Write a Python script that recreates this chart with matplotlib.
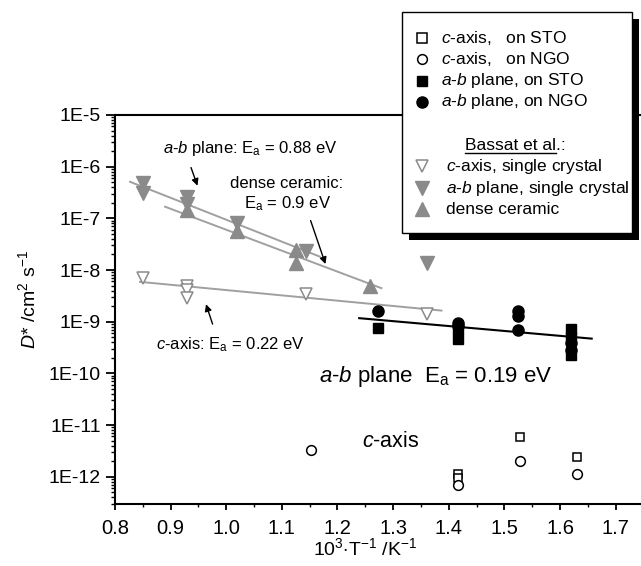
import numpy as np
import matplotlib
matplotlib.use("Agg")
from matplotlib import pyplot as plt
from matplotlib.lines import Line2D
from matplotlib.patches import Rectangle
from matplotlib.ticker import FuncFormatter, FixedLocator

plt.rcParams['font.family'] = ['Liberation Sans', 'DejaVu Sans']
plt.rcParams['mathtext.fontset'] = 'custom'
plt.rcParams['mathtext.rm'] = 'Liberation Sans'
plt.rcParams['mathtext.it'] = 'Liberation Sans:italic'

# thin films (this work)
c_sto_x = [1.416, 1.416, 1.528, 1.63]
c_sto_y = [1.12e-12, 9.3e-13, 5.8e-12, 2.4e-12]
c_ngo_x = [1.152, 1.416, 1.528, 1.63]
c_ngo_y = [3.3e-12, 6.9e-13, 2.0e-12, 1.15e-12]
ab_sto_x = [1.273, 1.417, 1.417, 1.62, 1.62, 1.62]
ab_sto_y = [7.5e-10, 7.2e-10, 4.6e-10, 7.2e-10, 5.1e-10, 2.3e-10]
ab_ngo_x = [1.273, 1.417, 1.417, 1.525, 1.525, 1.525, 1.62, 1.62]
ab_ngo_y = [1.64e-9, 9.6e-10, 8.4e-10, 1.64e-9, 1.29e-9, 6.8e-10, 3.9e-10, 2.8e-10]

# Bassat et al.
c_sc_x = [0.85, 0.93, 0.93, 0.93, 1.144, 1.36]
c_sc_y = [6.9e-9, 4.9e-9, 4.1e-9, 2.85e-9, 3.5e-9, 1.4e-9]
ab_sc_x = [0.85, 0.85, 0.93, 0.93, 1.02, 1.144, 1.36]
ab_sc_y = [4.8e-7, 3.1e-7, 2.6e-7, 1.9e-7, 8.0e-8, 2.3e-8, 1.35e-8]
dense_x = [0.93, 1.02, 1.126, 1.126, 1.258]
dense_y = [1.45e-7, 5.8e-8, 2.45e-8, 1.35e-8, 4.8e-9]

# Arrhenius fit lines (end points)
fit_ab_sc_x, fit_ab_sc_y = [0.827, 1.168], [5.1e-7, 1.82e-8]
fit_dense_x, fit_dense_y = [0.890, 1.279], [1.68e-7, 4.45e-9]
fit_c_sc_x, fit_c_sc_y = [0.845, 1.387], [5.9e-9, 1.64e-9]
fit_film_x, fit_film_y = [1.239, 1.657], [1.17e-9, 4.7e-10]

x_ticks = [0.8, 0.9, 1.0, 1.1, 1.2, 1.3, 1.4, 1.5, 1.6, 1.7]
x_minor = [0.85, 0.95, 1.05, 1.15, 1.25, 1.35, 1.45, 1.55, 1.65, 1.75]
y_ticks = [1e-12, 1e-11, 1e-10, 1e-9, 1e-8, 1e-7, 1e-6, 1e-5]

gray = '#8a8a8a'
lgray = '#a0a0a0'

W, H = 641, 566
fig = plt.figure(figsize=(W / 100, H / 100), dpi=100)
ax = fig.add_axes([115 / W, 1 - 504.3 / H, (649 - 115) / W, (504.3 - 115) / H])

ax.plot(fit_ab_sc_x, fit_ab_sc_y, color=lgray, lw=1.4)
ax.plot(fit_dense_x, fit_dense_y, color=lgray, lw=1.4)
ax.plot(fit_c_sc_x, fit_c_sc_y, color=lgray, lw=1.4)
ax.plot(fit_film_x, fit_film_y, color='black', lw=1.5)

ax.plot(c_sc_x, c_sc_y, 'v', ms=9, mfc='white', mec=gray, mew=1.1, ls='none')
ax.plot(ab_sc_x, ab_sc_y, 'v', ms=9.5, color=gray, ls='none')
ax.plot(dense_x, dense_y, '^', ms=9.5, color=gray, ls='none')
ax.plot(ab_sto_x, ab_sto_y, 's', ms=7, color='black', ls='none')
ax.plot(ab_ngo_x, ab_ngo_y, 'o', ms=8, color='black', ls='none')
ax.plot(c_sto_x, c_sto_y, 's', ms=6, mfc='white', mec='black', mew=1.1, ls='none')
ax.plot(c_ngo_x, c_ngo_y, 'o', ms=7, mfc='white', mec='black', mew=1.1, ls='none')

ax.set_yscale('log')
ax.set_xlim(0.8, 1.76)
ax.set_ylim(10 ** -12.534, 1e-5)
ax.xaxis.set_major_locator(FixedLocator(x_ticks))
ax.xaxis.set_minor_locator(FixedLocator(x_minor))
ax.xaxis.set_major_formatter(FuncFormatter(lambda v, p: f"{v:.1f}"))
y_minor = [m * t for t in [1e-13] + y_ticks[:-1] for m in range(2, 10)
           if 10 ** -12.534 < m * t < 1e-5]
ax.yaxis.set_major_locator(FixedLocator(y_ticks))
ax.yaxis.set_minor_locator(FixedLocator(y_minor))
ax.yaxis.set_major_formatter(FuncFormatter(lambda v, p: f"1E{int(round(np.log10(v)))}"))
ax.tick_params(axis='y', which='major', direction='out', length=6.5, width=1.3,
               labelsize=14, pad=3.5)
ax.tick_params(axis='y', which='minor', direction='out', length=3, width=1)
ax.tick_params(axis='x', which='major', direction='out', length=4.5, width=1.3,
               labelsize=14.5, pad=6)
ax.tick_params(axis='x', which='minor', direction='out', length=2.5, width=1)
for s in ['left', 'bottom', 'top']:
    ax.spines[s].set_linewidth(1.5)
ax.spines['right'].set_visible(False)

fig.text(28 / W, 1 - 300 / H, r'$D$* /cm$^2$ s$^{-1}$', rotation=90, fontsize=14,
         ha='center', va='center')
fig.text(365 / W, 1 - 548 / H, r'10$^3$$\cdot$T$^{-1}$ /K$^{-1}$', fontsize=14,
         ha='center', va='center')

# annotations
ax.annotate('', xy=(0.950, 3.8e-7), xytext=(0.935, 1.08e-6),
            arrowprops=dict(arrowstyle='-|>', color='black', lw=1, mutation_scale=10))
ax.text(1.043, 2.26e-6, r'$a$-$b$ plane: E$_\mathrm{a}$ = 0.88 eV', fontsize=12,
        ha='center', va='center')
ax.text(1.1085, 4.8e-7, 'dense ceramic:', fontsize=12, ha='center', va='center')
ax.text(1.111, 1.96e-7, r'E$_\mathrm{a}$ = 0.9 eV', fontsize=12, ha='center', va='center')
ax.annotate('', xy=(1.180, 1.16e-8), xytext=(1.150, 1.02e-7),
            arrowprops=dict(arrowstyle='-|>', color='black', lw=1, mutation_scale=10))
ax.annotate('', xy=(0.962, 2.45e-9), xytext=(0.977, 8.0e-10),
            arrowprops=dict(arrowstyle='-|>', color='black', lw=1, mutation_scale=10))
ax.text(1.008, 3.56e-10, r'$c$-axis: E$_\mathrm{a}$ = 0.22 eV', fontsize=12,
        ha='center', va='center')
ax.text(1.1666, 8.7e-11, r'$a$-$b$ plane  E$_\mathrm{a}$ = 0.19 eV', fontsize=16,
        ha='left', va='center')
ax.text(1.244, 4.8e-12, r'$c$-axis', fontsize=15.5, ha='left', va='center')


# legend drawn by hand in pixel coordinates
def fx(px):
    return px / W


def fy(py):
    return 1 - py / H


x0, y0, x1, y1 = 401.7, 11.7, 631.7, 233
fig.add_artist(Rectangle((fx(x0 + 7), fy(y1 + 7)), fx(x1 - x0), (y1 - y0) / H,
                         transform=fig.transFigure, facecolor='black', edgecolor='none', zorder=5))
fig.add_artist(Rectangle((fx(x0), fy(y1)), fx(x1 - x0), (y1 - y0) / H,
                         transform=fig.transFigure, facecolor='white', edgecolor='black',
                         lw=1, zorder=6))

legend_rows = [
    (38.3, 's', dict(mfc='white', mec='black', ms=6.5, mew=1.1), r'$c$-axis,   on STO', 440.7),
    (59.3, 'o', dict(mfc='white', mec='black', ms=7, mew=1.1), r'$c$-axis,   on NGO', 440.7),
    (80.7, 's', dict(color='black', ms=7), r'$a$-$b$ plane, on STO', 440.7),
    (101.7, 'o', dict(color='black', ms=8), r'$a$-$b$ plane, on NGO', 440.7),
    (166, 'v', dict(mfc='white', mec=gray, ms=9, mew=1.1), r'$c$-axis, single crystal', 446),
    (188.3, 'v', dict(color=gray, ms=9.5), r'$a$-$b$ plane, single crystal', 446),
    (209.3, '^', dict(color=gray, ms=9.5), 'dense ceramic', 446),
]
for py, mk, kw, label, tx in legend_rows:
    fig.add_artist(Line2D([fx(422)], [fy(py)], marker=mk, ls='none',
                          transform=fig.transFigure, zorder=7, **kw))
    fig.text(fx(tx), fy(py), label, fontsize=12.5, ha='left', va='center', zorder=7)

fig.text(fx(465), fy(145), 'Bassat et al.:', fontsize=12.5, ha='left', va='center', zorder=7)
fig.add_artist(Line2D([fx(465), fx(556)], [fy(153), fy(153)], color='black', lw=1,
                      transform=fig.transFigure, zorder=7))

fig.savefig('out.png', dpi=100)
